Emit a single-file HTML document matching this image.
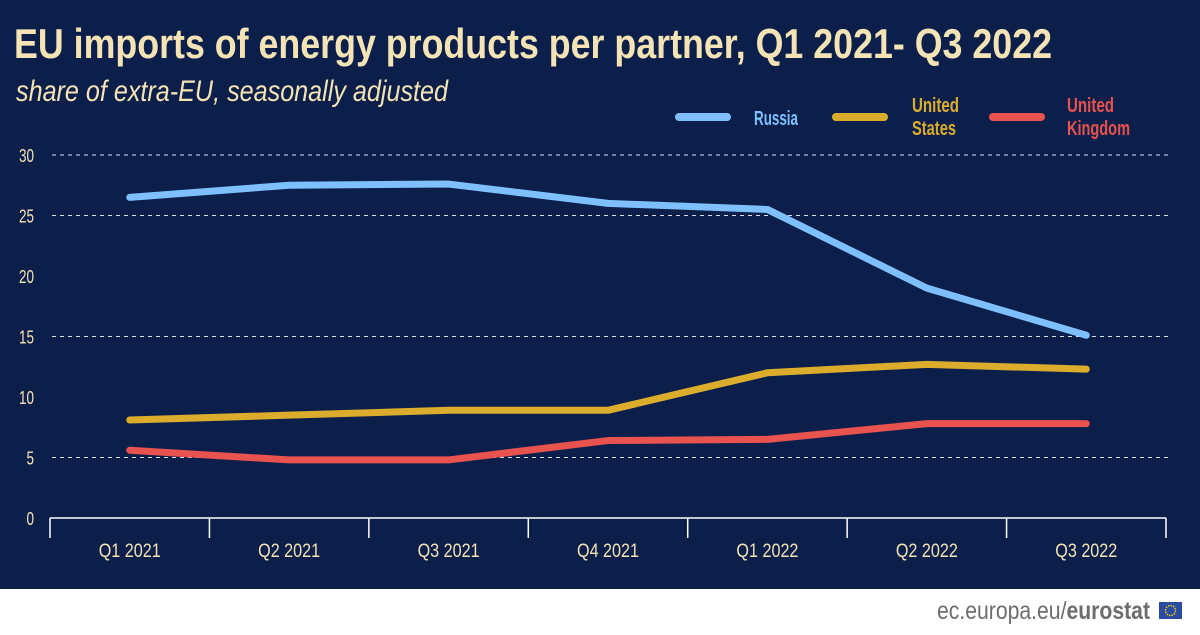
<!DOCTYPE html>
<html><head><meta charset="utf-8"><style>
body{margin:0;width:1200px;height:630px;overflow:hidden;background:#fff;font-family:"Liberation Sans",sans-serif}
svg text{font-family:"Liberation Sans",sans-serif}
</style></head><body>
<svg width="1200" height="630">
<rect x="0" y="0" width="1200" height="589" fill="#0c1f4a"/>
<text x="14" y="58" font-size="42" font-weight="bold" fill="#f3e3b5" textLength="1038" lengthAdjust="spacingAndGlyphs">EU imports of energy products per partner, Q1 2021- Q3 2022</text>
<text x="16" y="101" font-size="30" font-style="italic" fill="#f3e3b5" textLength="432" lengthAdjust="spacingAndGlyphs">share of extra-EU, seasonally adjusted</text>
<g>
<line x1="679" y1="117" x2="727" y2="117" stroke="#7ec0fd" stroke-width="8" stroke-linecap="round"/>
<text x="754" y="125" font-size="20" font-weight="bold" fill="#7ec0fd" textLength="44" lengthAdjust="spacingAndGlyphs">Russia</text>
<line x1="836" y1="117" x2="884" y2="117" stroke="#dcad2d" stroke-width="8" stroke-linecap="round"/>
<text font-size="20" font-weight="bold" fill="#dcad2d"><tspan x="912" y="112" textLength="47" lengthAdjust="spacingAndGlyphs">United</tspan><tspan x="912" y="135" textLength="44" lengthAdjust="spacingAndGlyphs">States</tspan></text>
<line x1="993" y1="117" x2="1041" y2="117" stroke="#e8524f" stroke-width="8" stroke-linecap="round"/>
<text font-size="20" font-weight="bold" fill="#e8524f"><tspan x="1067" y="112" textLength="47" lengthAdjust="spacingAndGlyphs">United</tspan><tspan x="1067" y="135" textLength="63" lengthAdjust="spacingAndGlyphs">Kingdom</tspan></text>
</g>
<g id="grid"></g><g id="axes"></g><g id="series"></g>
<g>
<text x="937" y="619" font-size="25" fill="#6d6d6d" textLength="213" lengthAdjust="spacingAndGlyphs">ec.europa.eu/<tspan font-weight="bold">eurostat</tspan></text>
<rect x="1159" y="602" width="23" height="17" fill="#2a4ba0"/>
<circle cx="1170.5" cy="610.5" r="5" fill="none" stroke="#f5d000" stroke-width="1.5" stroke-dasharray="1.5 1.1"/>
</g>
</svg>
<script>
const categories=["Q1 2021","Q2 2021","Q3 2021","Q4 2021","Q1 2022","Q2 2022","Q3 2022"];
const russia=[26.5,27.5,27.6,26.0,25.5,19.0,15.1];
const unitedStates=[8.1,8.5,8.9,8.9,12.0,12.7,12.3];
const unitedKingdom=[5.6,4.8,4.8,6.4,6.5,7.8,7.8];
const yTicks=[0,5,10,15,20,25,30];
const NS="http://www.w3.org/2000/svg";
const x0=50,x1=1166,yb=518,yt=155,yMax=30;
const step=(x1-x0)/categories.length;
const xs=i=>x0+step*(i+0.5);
const ys=v=>yb-(v/yMax)*(yb-yt);
function mk(tag,attrs,parent){const e=document.createElementNS(NS,tag);for(const k in attrs)e.setAttribute(k,attrs[k]);document.getElementById(parent).appendChild(e);return e;}
yTicks.forEach(v=>{
  if(v>0){
    const dashed=(v%10!==0)||v===30;
    const l=mk("line",{x1:52,x2:1168,y1:ys(v),y2:ys(v),stroke:"#ffffff","stroke-width":1,"stroke-dasharray":"4 4","stroke-opacity":dashed?0.85:0},"grid");
    
    
  }
  const s=String(v);
  const t=mk("text",{x:34,y:ys(v)+7,"font-size":18,fill:"#f3e3b5","text-anchor":"end",textLength:s.length*7.5,lengthAdjust:"spacingAndGlyphs"},"axes");
  t.textContent=s;
  
  
});
const ax=mk("line",{x1:x0,x2:x1,y1:yb,y2:yb,stroke:"#fff","stroke-width":1.5},"axes");


for(let i=0;i<=categories.length;i++){
  const tk=mk("line",{x1:x0+step*i,x2:x0+step*i,y1:yb,y2:yb+20,stroke:"#fff","stroke-width":1.5},"axes");
  
  
}
categories.forEach((c,i)=>{
  const t=mk("text",{x:xs(i),y:557,"font-size":19,fill:"#f3e3b5","text-anchor":"middle",textLength:62,lengthAdjust:"spacingAndGlyphs"},"axes");
  t.textContent=c;
  
  
});
[[russia,"#7ec0fd","russia-line"],[unitedStates,"#dcad2d","united-states-line"],[unitedKingdom,"#e8524f","united-kingdom-line"]].forEach(([d,col,name])=>{
  const p=mk("polyline",{points:d.map((v,i)=>xs(i)+","+ys(v)).join(" "),fill:"none",stroke:col,"stroke-width":7,"stroke-linecap":"round","stroke-linejoin":"round"},"series");
  
  
});
</script>
</body></html>
